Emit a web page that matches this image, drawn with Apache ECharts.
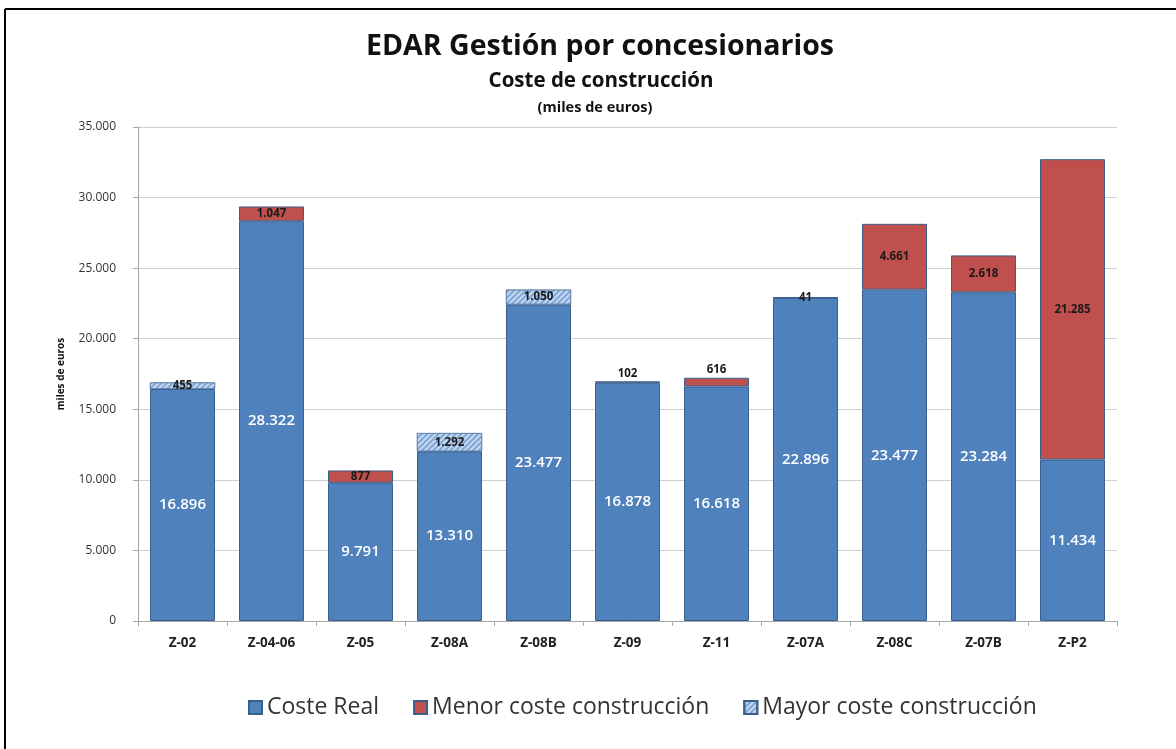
<!DOCTYPE html>
<html><head><meta charset="utf-8">
<script src="https://cdn.jsdelivr.net/npm/echarts@6/dist/echarts.min.js"></script>
<style>html,body{margin:0;padding:0;background:#fff}#c{width:1176px;height:749px}</style>
</head><body><div id="c"></div>
<script>
const categories = ['Z-02','Z-04-06','Z-05','Z-08A','Z-08B','Z-09','Z-11','Z-07A','Z-08C','Z-07B','Z-P2'];
const costeReal = [16896, 28322, 9791, 13310, 23477, 16878, 16618, 22896, 23477, 23284, 11434];
const menorCoste = [0, 1047, 877, 0, 0, 102, 616, 41, 4661, 2618, 21285];
const mayorCoste = [455, 0, 0, 1292, 1050, 0, 0, 0, 0, 0, 0];
const yTicks = [0, 5000, 10000, 15000, 20000, 25000, 30000, 35000];

const fmt = v => String(v).replace(/\B(?=(\d{3})+(?!\d))/g, '.');
const FONT = '"Open Sans", Lato, sans-serif';
const border = '#3A5F8B';

const chart = echarts.init(document.getElementById('c'));
chart.setOption({
  animation: false,
  backgroundColor: '#fff',
  title: [
    {text: 'EDAR Gestión por concesionarios', left: 595, top: 27, textAlign: 'center',
     textStyle: {fontFamily: FONT, fontSize: 28.5, fontWeight: 'bold', color: '#111'}},
    {text: 'Coste de construcción', left: 596, top: 66, textAlign: 'center',
     textStyle: {fontFamily: FONT, fontSize: 20.5, fontWeight: 'bold', color: '#111'}},
    {text: '(miles de euros)', left: 590, top: 95, textAlign: 'center',
     textStyle: {fontFamily: FONT, fontSize: 14.5, fontWeight: 'bold', color: '#111'}}
  ],
  legend: {
    left: 243, top: 691, itemWidth: 13, itemHeight: 13, itemGap: 34,
    icon: 'rect',
    textStyle: {fontFamily: FONT, fontSize: 23, color: '#333'},
    data: ['Coste Real', 'Menor coste construcción', 'Mayor coste construcción']
  },
  grid: {left: 138, right: 59, top: 127, bottom: 128},
  xAxis: {
    type: 'category', data: categories,
    axisLine: {lineStyle: {color: '#A6A6A6'}},
    axisTick: {show: true, alignWithLabel: false, lineStyle: {color: '#A6A6A6'}, length: 5},
    axisLabel: {fontFamily: FONT, fontSize: 13.5, fontWeight: 'bold', color: '#222', margin: 15}
  },
  yAxis: {
    type: 'value', min: yTicks[0], max: yTicks[yTicks.length - 1], interval: 5000,
    name: 'miles de euros', nameLocation: 'middle', nameGap: 72, nameRotate: 90,
    nameTextStyle: {fontFamily: FONT, fontSize: 10, fontWeight: 'bold', color: '#111'},
    axisLine: {show: true, lineStyle: {color: '#A6A6A6'}},
    axisTick: {show: true, inside: false, length: 5, lineStyle: {color: '#A6A6A6'}},
    axisLabel: {fontFamily: FONT, fontSize: 12, color: '#333', margin: 22, formatter: v => fmt(v)},
    splitLine: {lineStyle: {color: '#D0D0D0', width: 1}}
  },
  series: [
    {
      name: 'Coste Real', type: 'bar', stack: 's', barWidth: '73%',
      itemStyle: {color: '#4F81BD', borderColor: border, borderWidth: 1},
      data: costeReal.map((v, i) => v - mayorCoste[i]),
      label: {show: true, position: 'inside', color: '#fff', fontFamily: FONT,
        fontSize: 15, fontWeight: 600, formatter: p => fmt(costeReal[p.dataIndex])}
    },
    {
      name: 'Mayor coste construcción', type: 'bar', stack: 's',
      itemStyle: {color: '#C6D9F1', borderColor: border, borderWidth: 0.5,
        decal: {symbol: 'rect', symbolSize: 1, color: '#7EA6D6', dashArrayX: [1, 0], dashArrayY: [2, 2], rotation: -Math.PI / 4}},
      data: mayorCoste.map(v => v === 0 ? null : v),
      label: {show: true, position: 'inside', color: '#1a1a1a', fontFamily: FONT,
        fontSize: 11.5, fontWeight: 'bold', formatter: p => fmt(p.value)}
    },
    {
      name: 'Menor coste construcción', type: 'bar', stack: 's',
      itemStyle: {color: '#C0504D', borderColor: border, borderWidth: 1},
      data: menorCoste.map(v => v === 0 ? null : {
        value: v,
        label: {position: (v >= 100 && v < 800) ? 'top' : 'inside', distance: 2}
      }),
      label: {show: true, color: '#1a1a1a', fontFamily: FONT,
        fontSize: 11.5, fontWeight: 'bold', formatter: p => fmt(p.value)}
    }
  ],
  graphic: [
    {type: 'line', shape: {x1: 5, y1: 9, x2: 1176, y2: 9}, style: {stroke: '#000', lineWidth: 2}},
    {type: 'line', shape: {x1: 5, y1: 9, x2: 5, y2: 749}, style: {stroke: '#000', lineWidth: 2}}
  ]
});
</script></body></html>
